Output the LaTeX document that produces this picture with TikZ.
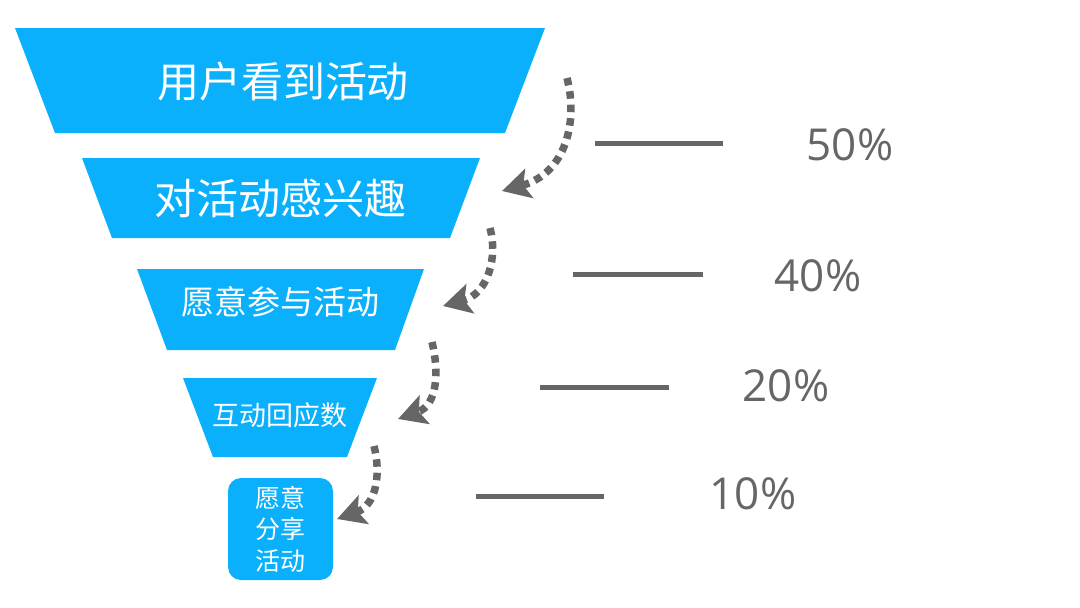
\documentclass[tikz,border=0pt]{standalone}
\usepackage{fontspec}
\newfontfamily\cjk{Noto Sans CJK SC}
\newfontfamily\pctfont{Open Sans}
\usetikzlibrary{arrows.meta}
\definecolor{funnelblue}{RGB}{10,176,252}
\definecolor{darkgrey}{RGB}{102,102,102}
\tikzset{
  funnel/.style={fill=funnelblue, draw=none},
  label42/.style={text=white, font=\cjk\fontsize{42}{42}\selectfont, inner sep=0pt},
  label34/.style={text=white, font=\cjk\fontsize{33}{33}\selectfont, inner sep=0pt},
  label27/.style={text=white, font=\cjk\fontsize{27}{27}\selectfont, inner sep=0pt},
  label25/.style={text=white, font=\cjk\fontsize{25}{31.5}\selectfont, inner sep=0pt, align=center},
  bar/.style={draw=darkgrey, line width=5pt},
  pct/.style={text=darkgrey, font=\pctfont\fontsize{44}{44}\selectfont, inner sep=0pt},
  flowarrow/.style={draw=darkgrey, line width=7.5pt, dash pattern=on 7.5pt off 6pt,
    -{Stealth[length=28pt,width=30pt,inset=6pt]}},
}
\begin{document}
\begin{tikzpicture}[x=1pt,y=-1pt]
\useasboundingbox (0,0) rectangle (1080,608);
% funnel layers
\fill[funnel] (15,28) -- (545,28) -- (505,133) -- (55,133) -- cycle;
\fill[funnel] (82,158) -- (480,158) -- (450,238) -- (112,238) -- cycle;
\fill[funnel] (137,269) -- (424,269) -- (395,350) -- (167,350) -- cycle;
\fill[funnel] (183,378) -- (377,378) -- (347,457) -- (213,457) -- cycle;
\fill[funnel, rounded corners=13pt] (228,478) rectangle (333,580);
% labels
\node[label42] (t1) at (283,82) {用户看到活动};
\node[label42] (t2) at (280,198) {对活动感兴趣};
\node[label34] (t3) at (280,302) {愿意参与活动};
\node[label27] (t4) at (280,415) {互动回应数};
\node[label25] (t5) at (280,529) {愿意\\分享\\活动};
% arrows
\coordinate (a1s) at (567,78);  \coordinate (a1e) at (502,191);
\coordinate (a2s) at (490,228); \coordinate (a2e) at (443,306);
\coordinate (a3s) at (432,342); \coordinate (a3e) at (398,419);
\coordinate (a4s) at (374,446); \coordinate (a4e) at (337,519);
\draw[flowarrow] (a1s) .. controls +(11,42) and +(65,-18) .. (a1e);
\draw[flowarrow] (a2s) .. controls +(8,29) and +(45,-12) .. (a2e);
\draw[flowarrow] (a3s) .. controls +(7,29) and +(40,-14) .. (a3e);
\draw[flowarrow] (a4s) .. controls +(7,27) and +(40,-14) .. (a4e);
% bars
\coordinate (b1s) at (595,143); \coordinate (b1e) at (723,143);
\coordinate (b2s) at (573,274); \coordinate (b2e) at (703,274);
\coordinate (b3s) at (540,387); \coordinate (b3e) at (669,387);
\coordinate (b4s) at (476,496); \coordinate (b4e) at (604,496);
\draw[bar] (b1s) -- (b1e);
\draw[bar] (b2s) -- (b2e);
\draw[bar] (b3s) -- (b3e);
\draw[bar] (b4s) -- (b4e);
% percentages
\node[pct] (p1) at (850,145) {50\%};
\node[pct] (p2) at (818,276) {40\%};
\node[pct] (p3) at (786,386) {20\%};
\node[pct] (p4) at (753,494) {10\%};
\end{tikzpicture}
\end{document}
